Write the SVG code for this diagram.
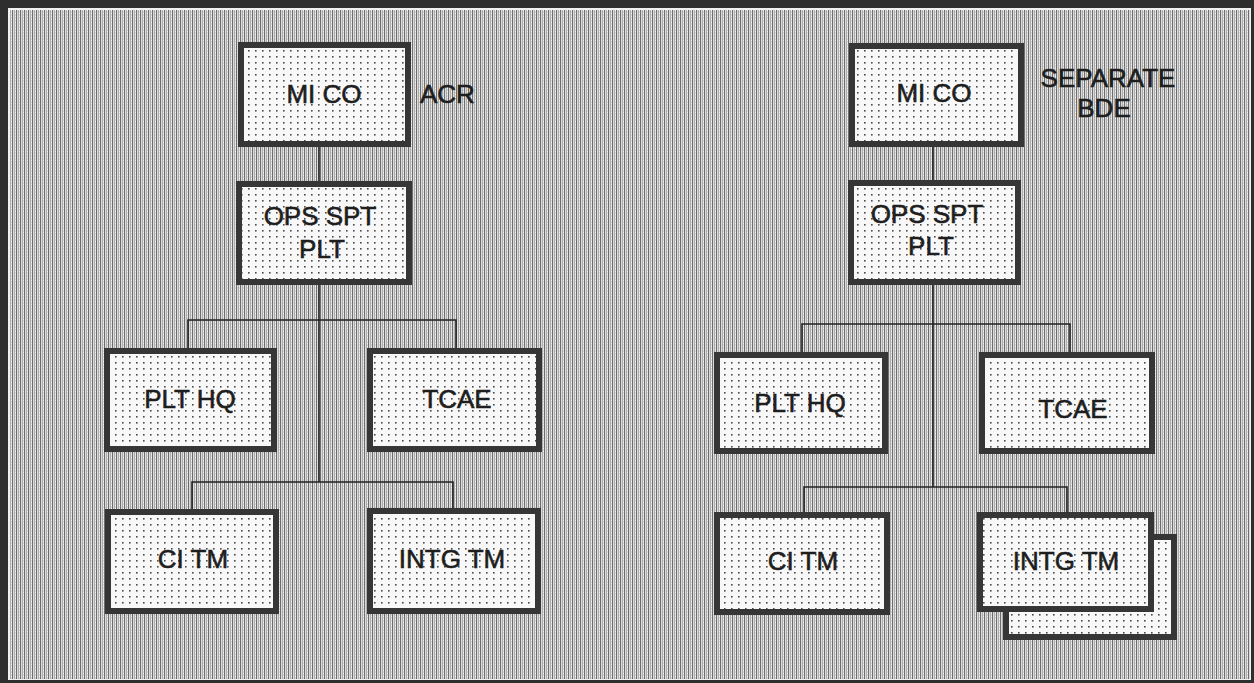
<svg xmlns="http://www.w3.org/2000/svg" width="1254" height="683" viewBox="0 0 1254 683">
  <defs>
    <pattern id="bgStripe" width="4" height="3" patternUnits="userSpaceOnUse">
      <rect width="4" height="3" fill="#dadada"/>
      <rect x="0" y="0" width="1" height="3" fill="#6e6e6e"/>
      <rect x="2" y="0" width="1" height="3" fill="#adadad"/>
      <rect x="3" y="1" width="1" height="1" fill="#f6f6f6"/>
    </pattern>
    <pattern id="dots" width="7" height="6" patternUnits="userSpaceOnUse">
      <rect width="7" height="6" fill="#f8f8f8"/>
      <rect x="3" y="2" width="1.6" height="1.6" fill="#4a4a4a"/>
    </pattern>
    <style>
      .box { fill: url(#dots); stroke: #363636; stroke-width: 6; }
      .lbl { font-family: "Liberation Sans", Arial, sans-serif; font-size: 26px; fill: #1e1e1e; stroke: #1e1e1e; stroke-width: 0.6; text-anchor: middle; }
      .side { font-family: "Liberation Sans", Arial, sans-serif; font-size: 26px; fill: #1e1e1e; stroke: #1e1e1e; stroke-width: 0.6; }
      .conn { stroke: #222; stroke-width: 1.6; fill: none; }
    </style>
  </defs>

  <!-- frame and background -->
  <rect x="0" y="0" width="1254" height="683" fill="#2e2e2e"/>
  <rect x="8" y="8" width="1243" height="672" fill="#f0f0f0"/>
  <rect x="10" y="10" width="1240" height="669" fill="url(#bgStripe)"/>

  <!-- connectors -->
  <g id="connectors">
    <path class="conn" d="M319 147 V181 M319 285 V482 M188 348 V320 H456 V348 M192 509 V482 H453 V508"/>
    <path class="conn" d="M933 147 V180 M933 285 V487 M802 352 V324 H1070 V352 M804 512 V487 H1067 V512"/>
  </g>

  <!-- left chart -->
  <g id="l-mico">
    <rect class="box" x="241" y="45" width="167" height="99"/>
    <text class="lbl" x="324" y="103">MI CO</text>
  </g>
  <text id="l-acr" class="side" x="420" y="103">ACR</text>
  <g id="l-ops">
    <rect class="box" x="239" y="184" width="170" height="98"/>
    <text class="lbl" x="320" y="225">OPS SPT</text>
    <text class="lbl" x="322" y="258">PLT</text>
  </g>
  <g id="l-plthq">
    <rect class="box" x="107" y="351" width="167" height="98"/>
    <text class="lbl" x="190" y="408">PLT HQ</text>
  </g>
  <g id="l-tcae">
    <rect class="box" x="370" y="351" width="169" height="98"/>
    <text class="lbl" x="457" y="408">TCAE</text>
  </g>
  <g id="l-citm">
    <rect class="box" x="108" y="512" width="168" height="99"/>
    <text class="lbl" x="193" y="568">CI TM</text>
  </g>
  <g id="l-intgtm">
    <rect class="box" x="370" y="511" width="168" height="100"/>
    <text class="lbl" x="452" y="568">INTG TM</text>
  </g>

  <!-- right chart -->
  <g id="r-mico">
    <rect class="box" x="852" y="46" width="169" height="98"/>
    <text class="lbl" x="934" y="102">MI CO</text>
  </g>
  <g id="r-sep">
    <text class="lbl" x="1108" y="87">SEPARATE</text>
    <text class="lbl" x="1104" y="117">BDE</text>
  </g>
  <g id="r-ops">
    <rect class="box" x="851" y="183" width="167" height="99"/>
    <text class="lbl" x="927" y="223">OPS SPT</text>
    <text class="lbl" x="931" y="255">PLT</text>
  </g>
  <g id="r-plthq">
    <rect class="box" x="717" y="355" width="168" height="96"/>
    <text class="lbl" x="800" y="412">PLT HQ</text>
  </g>
  <g id="r-tcae">
    <rect class="box" x="982" y="355" width="170" height="96"/>
    <text class="lbl" x="1073" y="418">TCAE</text>
  </g>
  <g id="r-citm">
    <rect class="box" x="717" y="515" width="170" height="97"/>
    <text class="lbl" x="803" y="570">CI TM</text>
  </g>
  <g id="r-intgtm">
    <rect class="box" x="1006" y="537" width="168" height="100"/>
    <rect class="box" x="980" y="515" width="171" height="94"/>
    <text class="lbl" x="1066" y="570">INTG TM</text>
  </g>
</svg>
